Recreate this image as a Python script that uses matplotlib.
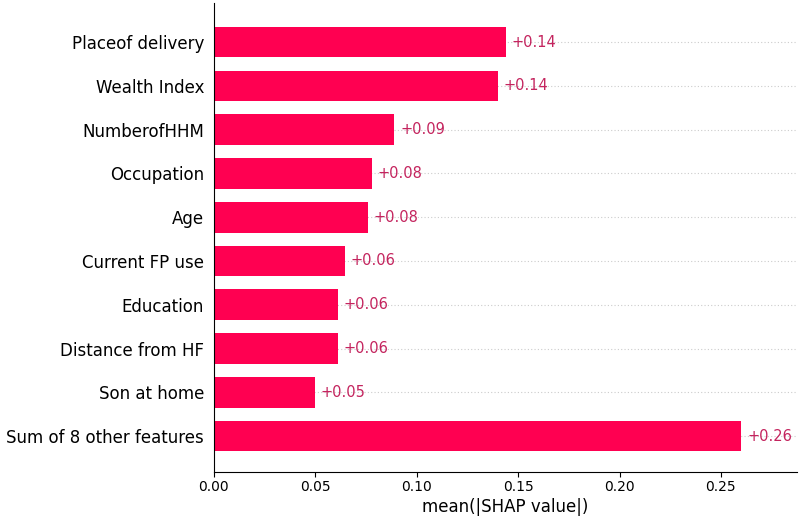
import matplotlib
matplotlib.use("Agg")
import matplotlib.pyplot as plt

features = ["Placeof delivery", "Wealth Index", "NumberofHHM", "Occupation", "Age",
            "Current FP use", "Education", "Distance from HF", "Son at home",
            "Sum of 8 other features"]
values = [0.144, 0.140, 0.089, 0.078, 0.076, 0.0646, 0.061, 0.061, 0.0498, 0.260]
labels = ["+0.14", "+0.14", "+0.09", "+0.08", "+0.08", "+0.06", "+0.06", "+0.06", "+0.05", "+0.26"]

red = "#ff0051"

fig = plt.figure(figsize=(8.07, 5.21), dpi=100)
ax = fig.add_axes([0.265, 0.094, 0.7226, 0.900])

y = list(range(len(features)))
for yi in y:
    ax.axhline(yi, color="#cccccc", lw=0.8, dashes=(1, 2), zorder=-1)

ax.barh(y, values, height=0.7, color=red, zorder=2)

xmax = 0.2875
for yi, v, lab in zip(y, values, labels):
    ax.text(v + xmax / 100, yi, lab, ha="left", va="center", color="#c4245e", fontsize=10.5)

ax.set_xlim(0, xmax)
ax.set_ylim(9.82, -0.89)
ax.set_yticks(y)
ax.set_yticklabels(features, fontsize=12)
ax.tick_params(axis="y", length=0, pad=7)
ax.tick_params(axis="x", labelsize=10, pad=2.5)
ax.set_xlabel("mean(|SHAP value|)", fontsize=12, labelpad=2.5)

ax.spines["top"].set_visible(False)
ax.spines["right"].set_visible(False)

fig.savefig("out.png", dpi=100)
